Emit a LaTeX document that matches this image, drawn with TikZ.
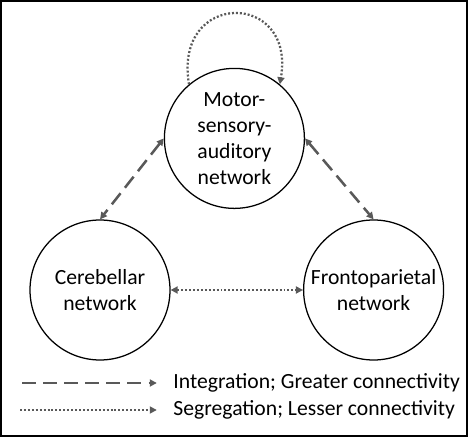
\documentclass[tikz,border=0pt]{standalone}
\usepackage{fontspec}
\setmainfont{Carlito}
\usetikzlibrary{positioning,calc,arrows.meta}
\definecolor{arrowgray}{HTML}{595959}
\tikzset{
    every node/.style={font=\fontsize{15.4}{18.4}\selectfont},
    netcircle/.style={draw=black, line width=0.9pt, circle, minimum size=3.5cm, inner sep=0pt, align=center},
    onetip/.style={-{Triangle[length=5pt,width=5pt]}},
    twotips/.style={{Triangle[length=5pt,width=5pt]}-{Triangle[length=5pt,width=5pt]}},
    dashline/.style={draw=arrowgray, line width=1.8pt, dash pattern=on 10pt off 5pt},
    dotline/.style={draw=arrowgray, line width=1.6pt, dash pattern=on 1.4pt off 1.4pt},
}

\begin{document}
\begin{tikzpicture}
\useasboundingbox (0,0) rectangle (11.875,10.95);
\draw[line width=1.4pt] (0.03,0.05) rectangle (11.68,10.92);
% the three networks
\node[netcircle] (msa) at (5.86,7.49) {Motor-\\sensory-\\auditory\\network};
\node[netcircle] (cer) at (2.5,3.7) {Cerebellar\\network};
\node[netcircle] (fp) at (9.34,3.7) {Frontoparietal\\network};
% integration between the motor node and the other two
\draw[dashline, twotips] (msa.west) -- (cer.north);
\draw[dashline, twotips] (msa.east) -- (fp.north);
% segregation
\draw[dotline, twotips] (cer.east) -- (fp.west);
\draw[dotline, onetip] (msa.130) .. controls ($(msa.130)+(-0.4,2.35)$) and ($(msa.50)+(0.4,2.35)$) .. (msa.50);
% legend
\coordinate (l1a) at (0.55,1.375);
\coordinate (l1b) at (3.92,1.375);
\coordinate (l2a) at (0.5,0.7);
\coordinate (l2b) at (3.92,0.7);
\node[anchor=west, inner sep=0pt] (integ) at (4.33,1.375) {Integration; Greater connectivity};
\node[anchor=west, inner sep=0pt] (segr) at (4.33,0.7) {Segregation; Lesser connectivity};
\draw[dashline, onetip, line width=1.5pt] (l1a) -- (l1b);
\draw[dotline, onetip, line width=1.2pt] (l2a) -- (l2b);
\end{tikzpicture}
\end{document}
